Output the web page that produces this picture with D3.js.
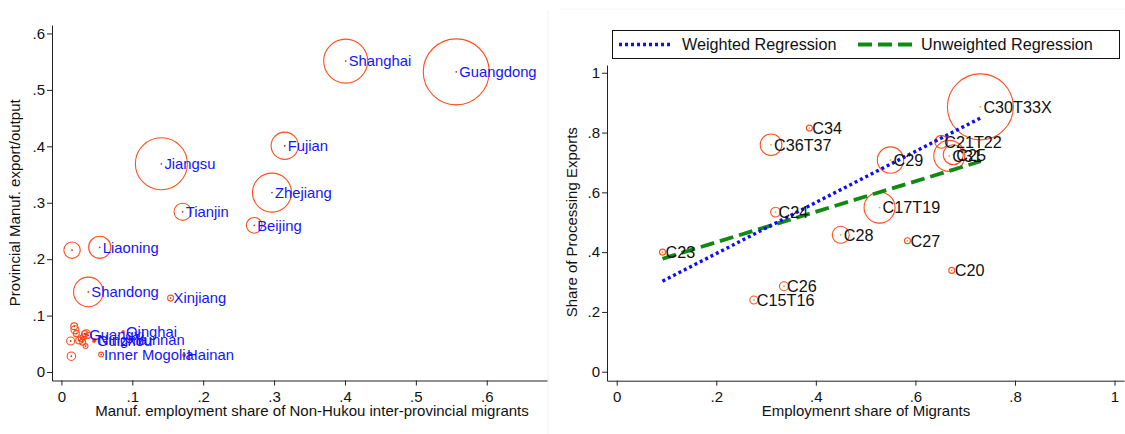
<!DOCTYPE html>
<html>
<head>
<meta charset="utf-8">
<script src="https://cdn.jsdelivr.net/npm/d3@7"></script>
<style>
  body { margin: 0; background: white; }
  svg { display: block; font-family: "Liberation Sans", Arial, sans-serif; }
</style>
</head>
<body>
<div id="container"></div>
<script>
/* CONSTANTS AND GLOBALS */
const width = 1125,
  height = 434;

/* DATA - left panel (provinces) */
const provNames = ["Shanghai", "Guangdong", "Fujian", "Jiangsu", "Zhejiang", "Tianjin", "Beijing",
  "Liaoning", "", "Shandong", "Xinjiang", "Qinghai", "Guangxi", "Guizhou", "Ningxia", "Yunnan",
  "Inner Mogolia", "Hainan", "", "", "", "", "", "", "", "", "", "", "", ""];
const provMigShare = [0.401, 0.557, 0.315, 0.141, 0.297, 0.171, 0.272,
  0.054, 0.015, 0.038, 0.154, 0.087, 0.035, 0.046, 0.047, 0.099,
  0.056, 0.173, 0.014, 0.013, 0.018, 0.019, 0.021, 0.025, 0.028, 0.030, 0.033, 0.034, 0.031, 0.038];
const provExport = [0.551, 0.532, 0.401, 0.369, 0.318, 0.284, 0.260,
  0.221, 0.216, 0.142, 0.131, 0.071, 0.067, 0.055, 0.057, 0.058,
  0.031, 0.030, 0.028, 0.055, 0.081, 0.075, 0.068, 0.056, 0.059, 0.053, 0.068, 0.046, 0.062, 0.065];
const provWeight = [484, 1089, 185, 676, 380, 74, 62,
  123, 67, 219, 9, 1.7, 20, 2, 2, 2,
  6, 2, 18, 16, 12, 16, 9, 12, 9, 9, 9, 6, 9, 9];

/* DATA - right panel (industries) */
const indNames = ["C30T33X", "C34", "C36T37", "C21T22", "C31", "C25", "C29", "C17T19",
  "C24", "C28", "C27", "C23", "C20", "C26", "C15T16"];
const indMigShare = [0.7305, 0.387, 0.310, 0.652, 0.668, 0.676, 0.550, 0.528,
  0.319, 0.450, 0.584, 0.092, 0.673, 0.336, 0.2755];
const indProcShare = [0.886, 0.815, 0.759, 0.769, 0.722, 0.726, 0.708, 0.549,
  0.534, 0.458, 0.438, 0.400, 0.339, 0.286, 0.240];
const indWeight = [1089, 9, 117, 42, 240, 100, 174, 240,
  24, 72, 9, 9, 9, 20, 16];

/* fitted lines, endpoints */
const fitX = [0.092, 0.731];
const fitWeighted = [0.303, 0.849];
const fitUnweighted = [0.378, 0.704];
const legendLabels = ["Weighted Regression", "Unweighted Regression"];

const leftXTicks = [0, 0.1, 0.2, 0.3, 0.4, 0.5, 0.6];
const leftYTicks = [0, 0.1, 0.2, 0.3, 0.4, 0.5, 0.6];
const rightXTicks = [0, 0.2, 0.4, 0.6, 0.8, 1];
const rightYTicks = [0, 0.2, 0.4, 0.6, 0.8, 1];

const fmt = v => v === 0 ? "0" : (v === 1 ? "1" : d3.format(".1f")(v).replace(/^0/, ""));

const circleColor = "#ff4f1f";

const svg = d3.select("#container")
  .append("svg")
  .attr("width", width)
  .attr("height", height)
  .style("background-color", "white")

// faint graph region edges
svg.append("line")
  .attr("x1", 548).attr("x2", 548).attr("y1", 10).attr("y2", height)
  .attr("stroke", "#f0f2f5")
svg.append("line")
  .attr("x1", 560).attr("x2", width).attr("y1", 9).attr("y2", 9)
  .attr("stroke", "#f0f2f5")

/* SCALES */
const xL = d3.scaleLinear().domain([-0.0133, 0.685]).range([52, 547]);
const yL = d3.scaleLinear().domain([-0.015, 0.615]).range([380.5, 25]);
const rL = d3.scaleSqrt().domain([0, d3.max(provWeight)]).range([0, 33]);

const xR = d3.scaleLinear().domain([-0.0195, 1.019]).range([607, 1124]);
const yR = d3.scaleLinear().domain([-0.03, 1.026]).range([380.7, 65]);
const rR = d3.scaleSqrt().domain([0, d3.max(indWeight)]).range([0, 33]);

function drawAxes(xs, ys, xticks, yticks, xTitle, yTitle, xTitleX, yTitleX) {
  const [x0, x1] = xs.range();
  const [y0, y1] = ys.range();

  svg.append("g")
    .attr("transform", `translate(0, ${y0})`)
    .call(d3.axisBottom(xs).tickValues(xticks).tickFormat(fmt).tickSize(5).tickSizeOuter(0))
    .call(g => g.select(".domain").attr("stroke", "#222"))
    .call(g => g.selectAll(".tick line").attr("stroke", "#222"))
    .call(g => g.selectAll("text").attr("font-size", 15).attr("fill", "#111")
      .attr("font-family", "Liberation Sans, Arial, sans-serif").attr("dy", "0.9em"))

  svg.append("g")
    .attr("transform", `translate(${x0}, 0)`)
    .call(d3.axisLeft(ys).tickValues(yticks).tickFormat(fmt).tickSize(5).tickSizeOuter(0))
    .call(g => g.select(".domain").attr("stroke", "#222"))
    .call(g => g.selectAll(".tick line").attr("stroke", "#222"))
    .call(g => g.selectAll("text").attr("font-size", 15).attr("fill", "#111")
      .attr("font-family", "Liberation Sans, Arial, sans-serif").attr("x", -7))

  svg.append("text")
    .attr("x", xTitleX)
    .attr("y", 416)
    .attr("text-anchor", "middle")
    .attr("font-size", 15)
    .attr("fill", "#111")
    .text(xTitle)

  svg.append("text")
    .attr("transform", `translate(${yTitleX}, ${(ys(yticks[0]) + ys(yticks[yticks.length - 1])) / 2}) rotate(-90)`)
    .attr("text-anchor", "middle")
    .attr("font-size", 15)
    .attr("fill", "#111")
    .text(yTitle)
}

/* LEFT PANEL */
drawAxes(xL, yL, leftXTicks, leftYTicks,
  "Manuf. employment share of Non-Hukou inter-provincial migrants",
  "Provincial Manuf. export/output", 312, 20)

const provData = provNames.map((n, i) => ({
  name: n, x: provMigShare[i], y: provExport[i], w: provWeight[i]
}));

svg.append("g").selectAll("circle")
  .data(provData)
  .join("circle")
  .attr("cx", d => xL(d.x))
  .attr("cy", d => yL(d.y))
  .attr("r", d => rL(d.w))
  .attr("fill", "none")
  .attr("stroke", circleColor)
  .attr("stroke-width", 1.1)

svg.append("g").selectAll("circle")
  .data(provData)
  .join("circle")
  .attr("cx", d => xL(d.x))
  .attr("cy", d => yL(d.y))
  .attr("r", 0.9)
  .attr("fill", "#c0392b")

svg.append("g").selectAll("text")
  .data(provData.filter(d => d.name !== ""))
  .join("text")
  .attr("x", d => xL(d.x) + 3)
  .attr("y", d => yL(d.y))
  .attr("dy", "0.36em")
  .attr("font-size", 14.8)
  .attr("fill", "#1414ff")
  .text(d => d.name)

/* RIGHT PANEL */
drawAxes(xR, yR, rightXTicks, rightYTicks,
  "Employmenrt share of Migrants",
  "Share of Processing Exports", 866, 577)

const indData = indNames.map((n, i) => ({
  name: n, x: indMigShare[i], y: indProcShare[i], w: indWeight[i]
}));

svg.append("g").selectAll("circle")
  .data(indData)
  .join("circle")
  .attr("cx", d => xR(d.x))
  .attr("cy", d => yR(d.y))
  .attr("r", d => rR(d.w))
  .attr("fill", "none")
  .attr("stroke", circleColor)
  .attr("stroke-width", 1.1)

svg.append("g").selectAll("circle")
  .data(indData)
  .join("circle")
  .attr("cx", d => xR(d.x))
  .attr("cy", d => yR(d.y))
  .attr("r", 0.9)
  .attr("fill", "#ff9a3c")

// regression lines
const fitLine = d3.line().x(d => xR(d[0])).y(d => yR(d[1]));

svg.append("path")
  .datum(fitX.map((x, i) => [x, fitUnweighted[i]]))
  .attr("d", fitLine)
  .attr("fill", "none")
  .attr("stroke", "#118a11")
  .attr("stroke-width", 3.8)
  .attr("stroke-dasharray", "14,6")

svg.append("path")
  .datum(fitX.map((x, i) => [x, fitWeighted[i]]))
  .attr("d", fitLine)
  .attr("fill", "none")
  .attr("stroke", "#0b0bff")
  .attr("stroke-width", 3.4)
  .attr("stroke-dasharray", "3,3")

svg.append("g").selectAll("text")
  .data(indData)
  .join("text")
  .attr("x", d => xR(d.x) + 3)
  .attr("y", d => yR(d.y))
  .attr("dy", "0.36em")
  .attr("font-size", 16.2)
  .attr("fill", "#111")
  .text(d => d.name)

/* LEGEND */
const legend = svg.append("g")

legend.append("rect")
  .attr("x", 612.5).attr("y", 30.5)
  .attr("width", 507).attr("height", 28)
  .attr("fill", "white")
  .attr("stroke", "#111")

legend.append("line")
  .attr("x1", 619).attr("x2", 672).attr("y1", 44.5).attr("y2", 44.5)
  .attr("stroke", "#0b0bff").attr("stroke-width", 3.4).attr("stroke-dasharray", "3,3")

legend.append("text")
  .attr("x", 682).attr("y", 44.5).attr("dy", "0.36em")
  .attr("font-size", 16.2).attr("fill", "#111")
  .text(legendLabels[0])

legend.append("line")
  .attr("x1", 858).attr("x2", 912).attr("y1", 44.5).attr("y2", 44.5)
  .attr("stroke", "#118a11").attr("stroke-width", 3.8).attr("stroke-dasharray", "14,6")

legend.append("text")
  .attr("x", 921).attr("y", 44.5).attr("dy", "0.36em")
  .attr("font-size", 16.2).attr("fill", "#111")
  .text(legendLabels[1])
</script>
</body>
</html>
